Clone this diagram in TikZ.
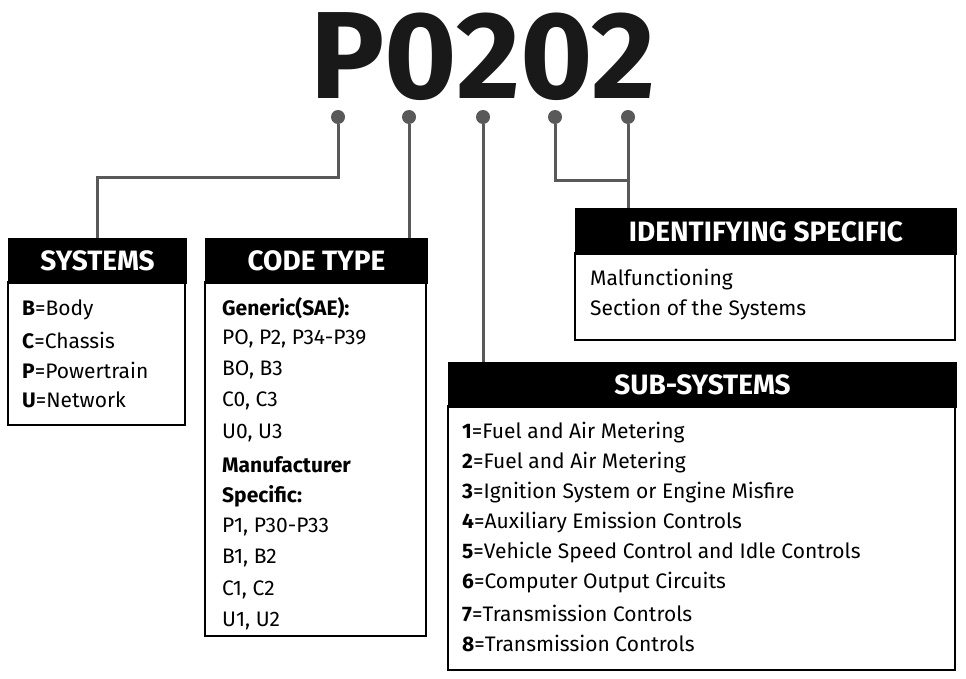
\documentclass[tikz,border=0pt]{standalone}
\usepackage{fontspec}
\setmainfont{Fira Sans}
\begin{document}
\begin{tikzpicture}[x=1pt,y=-1pt,
  hdr/.style={fill=black,draw=black,line width=2pt},
  box/.style={draw=black,line width=2pt,fill=white},
  htxt/.style={text=white,font=\fontsize{28}{30}\selectfont\bfseries},
  itm/.style={anchor=west,inner sep=0pt,font=\fontsize{21}{24}\selectfont},
  con/.style={draw=black!65,line width=3pt},
  dot/.style={circle,fill=black!65,minimum size=14pt,inner sep=0pt}]
\useasboundingbox (0,0) rectangle (966,679);
\node[font=\fontsize{124}{124}\selectfont\bfseries,text=black!90] (title) at (483,57) {P0202};
% dots
\node[dot] (d1) at (338,117) {};
\node[dot] (d2) at (409,117) {};
\node[dot] (d3) at (483,117) {};
\node[dot] (d4) at (555,117) {};
\node[dot] (d5) at (628,117) {};
% boxes
\draw[box] (8,282) rectangle (185,425);
\node[hdr,minimum width=177pt,minimum height=44pt,inner sep=0pt,anchor=north west] (hs) at (8,238) {};
\node[htxt] at (hs) {SYSTEMS};
\draw[box] (205,282) rectangle (426,636);
\node[hdr,minimum width=221pt,minimum height=44pt,inner sep=0pt,anchor=north west] (hc) at (205,238) {};
\node[htxt] at (hc) {CODE TYPE};
\draw[box] (575,253) rectangle (955,340);
\node[hdr,minimum width=380pt,minimum height=45pt,inner sep=0pt,anchor=north west] (hi) at (575,208) {};
\node[htxt] at (hi) {IDENTIFYING SPECIFIC};
\draw[box] (448,406) rectangle (955,670);
\node[hdr,minimum width=507pt,minimum height=44pt,inner sep=0pt,anchor=north west] (hu) at (448,362) {};
\node[htxt] at (hu) {SUB-SYSTEMS};
% connectors
\draw[con] (d1) -- (338,178) -| (hs.north);
\draw[con] (d2) -- (d2 |- hc.north);
\draw[con] (d3) -- (d3 |- hu.north);
\draw[con] (d4) |- (628,181);
\draw[con] (d5) -- (d5 |- hi.north);
% systems
\node[itm] (s1) at (22,310) {\textbf{B}=Body};
\node[itm] (s2) at (22,340) {\textbf{C}=Chassis};
\node[itm] (s3) at (22,370) {\textbf{P}=Powertrain};
\node[itm] (s4) at (22,400) {\textbf{U}=Network};
% code type
\node[itm] (c1) at (222,308) {\textbf{Generic(SAE):}};
\node[itm] (c2) at (222,339) {PO, P2, P34-P39};
\node[itm] (c3) at (222,370) {BO, B3};
\node[itm] (c4) at (222,401) {C0, C3};
\node[itm] (c5) at (222,433) {U0, U3};
\node[itm] (c6) at (222,465) {\textbf{Manufacturer}};
\node[itm] (c7) at (222,496) {\textbf{Specific:}};
\node[itm] (c8) at (222,527) {P1, P30-P33};
\node[itm] (c9) at (222,558) {B1, B2};
\node[itm] (c10) at (222,590) {C1, C2};
\node[itm] (c11) at (222,621) {U1, U2};
% identifying
\node[itm] (i1) at (590,280) {Malfunctioning};
\node[itm] (i2) at (590,310) {Section of the Systems};
% sub
\node[itm] (u1) at (462,433) {\textbf{1}=Fuel and Air Metering};
\node[itm] (u2) at (462,463) {\textbf{2}=Fuel and Air Metering};
\node[itm] (u3) at (462,493) {\textbf{3}=Ignition System or Engine Misfire};
\node[itm] (u4) at (462,523) {\textbf{4}=Auxiliary Emission Controls};
\node[itm] (u5) at (462,553) {\textbf{5}=Vehicle Speed Control and Idle Controls};
\node[itm] (u6) at (462,583) {\textbf{6}=Computer Output Circuits};
\node[itm] (u7) at (462,613) {\textbf{7}=Transmission Controls};
\node[itm] (u8) at (462,643) {\textbf{8}=Transmission Controls};
\end{tikzpicture}
\end{document}
